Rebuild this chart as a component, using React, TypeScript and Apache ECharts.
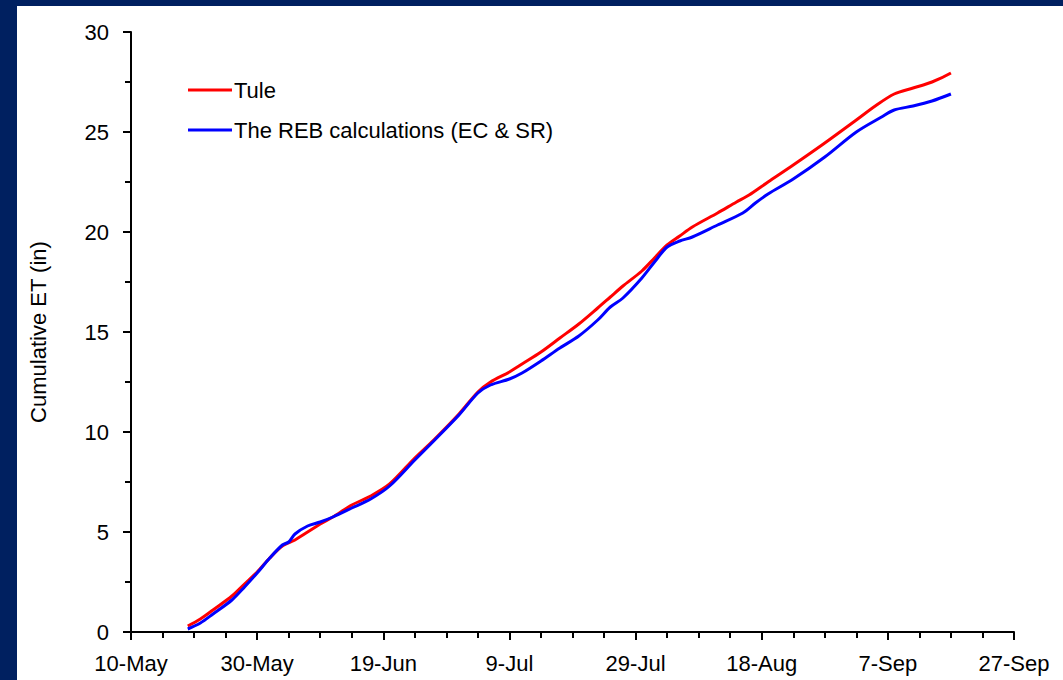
import React, { useEffect, useRef } from "react";
import * as echarts from "echarts";

// Day offsets counted from 10-May
const xTickLabels = ["10-May", "30-May", "19-Jun", "9-Jul", "29-Jul", "18-Aug", "7-Sep", "27-Sep"];

const tuleDays = [9, 11, 13, 16, 18, 20, 22, 24, 26, 28, 30, 32, 35, 38, 41, 45, 48, 52, 55, 57, 60, 62, 65, 68, 71, 74, 76, 78, 81, 83, 85, 87, 89, 93, 96, 98, 101, 105, 110, 115, 118, 121, 124, 127, 130];
const tuleValues = [0.3, 0.65, 1.1, 1.8, 2.4, 3.0, 3.7, 4.3, 4.6, 5.0, 5.4, 5.75, 6.35, 6.8, 7.4, 8.7, 9.6, 10.9, 12.0, 12.5, 13.0, 13.4, 14.0, 14.7, 15.4, 16.2, 16.75, 17.3, 18.05, 18.7, 19.35, 19.8, 20.25, 20.95, 21.5, 21.85, 22.5, 23.35, 24.45, 25.6, 26.3, 26.9, 27.2, 27.5, 27.95];

const rebDays = [9, 11, 13, 16, 18, 20, 22, 24, 25, 26, 28, 30, 32, 35, 38, 41, 45, 48, 52, 55, 57, 60, 62, 65, 68, 71, 74, 76, 78, 81, 83, 85, 87, 89, 93, 97, 99, 101, 105, 110, 115, 119, 121, 124, 127, 130];
const rebValues = [0.15, 0.45, 0.9, 1.6, 2.25, 2.95, 3.7, 4.35, 4.5, 4.9, 5.3, 5.5, 5.75, 6.2, 6.65, 7.3, 8.6, 9.55, 10.85, 11.95, 12.35, 12.65, 12.95, 13.55, 14.2, 14.8, 15.6, 16.25, 16.7, 17.7, 18.5, 19.25, 19.55, 19.75, 20.35, 20.95, 21.45, 21.9, 22.65, 23.75, 25.0, 25.75, 26.1, 26.3, 26.55, 26.9];

const FONT = "'Liberation Sans', Arial, sans-serif";

export default function App() {
  const ref = useRef<HTMLDivElement>(null);
  useEffect(() => {
    if (!ref.current) return;
    const chart = echarts.init(ref.current, undefined, { renderer: "svg" });
    chart.setOption({
      animation: false,
      backgroundColor: "#002060",
      graphic: [
        {
          type: "rect",
          z: -10,
          shape: { x: 17, y: 6, width: 1046, height: 674 },
          style: { fill: "#ffffff" },
          silent: true,
        },
      ],
      grid: { left: 131, right: 49, top: 32, bottom: 48 },
      legend: {
        orient: "vertical",
        left: 188,
        top: 79,
        padding: 0,
        icon: "rect",
        itemWidth: 44,
        itemHeight: 3,
        itemGap: 18,
        textStyle: { fontFamily: FONT, fontSize: 22, color: "#000", padding: [0, 0, 0, -3] },
        data: ["Tule", "The REB calculations (EC & SR)"],
      },
      xAxis: {
        type: "value",
        min: 0,
        max: 140,
        interval: 20,
        axisLine: { show: true, onZero: false, lineStyle: { color: "#000", width: 2 } },
        axisTick: { show: true, length: 8, lineStyle: { color: "#000", width: 2 } },
        minorTick: { show: true, splitNumber: 4, length: 6, lineStyle: { color: "#000", width: 2 } },
        splitLine: { show: false },
        axisLabel: {
          fontFamily: FONT,
          fontSize: 22,
          color: "#000",
          margin: 20,
          formatter: (v: number) => xTickLabels[Math.round(v / 20)] ?? "",
        },
      },
      yAxis: {
        type: "value",
        min: 0,
        max: 30,
        interval: 5,
        name: "Cumulative ET (in)",
        nameLocation: "middle",
        nameGap: 82,
        nameTextStyle: { fontFamily: FONT, fontSize: 22, color: "#000" },
        axisLine: { show: true, lineStyle: { color: "#000", width: 2 } },
        axisTick: { show: true, length: 8, lineStyle: { color: "#000", width: 2 } },
        minorTick: { show: true, splitNumber: 2, length: 6, lineStyle: { color: "#000", width: 2 } },
        splitLine: { show: false },
        axisLabel: { fontFamily: FONT, fontSize: 22, color: "#000", margin: 22 },
      },
      series: [
        {
          name: "Tule",
          type: "line",
          data: tuleDays.map((d, i) => [d, tuleValues[i]]),
          showSymbol: false,
          symbol: "none",
          smooth: 0.3,
          color: "#ff0000",
          lineStyle: { color: "#ff0000", width: 3 },
          z: 2,
        },
        {
          name: "The REB calculations (EC & SR)",
          type: "line",
          data: rebDays.map((d, i) => [d, rebValues[i]]),
          showSymbol: false,
          symbol: "none",
          smooth: 0.3,
          color: "#0000ff",
          lineStyle: { color: "#0000ff", width: 3 },
          z: 3,
        },
      ],
    });
    return () => chart.dispose();
  }, []);
  return (
    <div
      ref={ref}
      style={{ position: "fixed", left: 0, top: 0, width: 1063, height: 680 }}
    />
  );
}
